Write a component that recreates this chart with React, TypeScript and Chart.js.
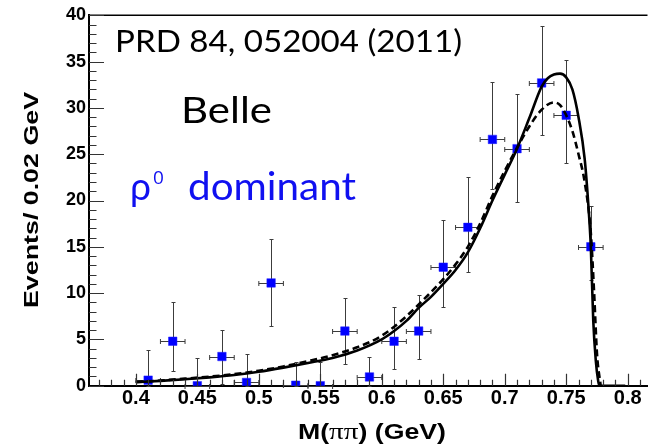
import React, { useEffect, useRef } from "react";
import { Chart, registerables } from "chart.js";

Chart.register(...registerables);

// ---- data ----
const binCenters = [0.41, 0.43, 0.45, 0.47, 0.49, 0.51, 0.53, 0.55, 0.57, 0.59, 0.61, 0.63, 0.65, 0.67, 0.69, 0.71, 0.73, 0.75, 0.77];
const binValues = [0.6, 4.8, 0.0, 3.15, 0.35, 11.1, 0.05, 0.0, 5.9, 0.95, 4.8, 5.9, 12.8, 17.1, 26.6, 25.6, 32.7, 29.2, 15.0];
const errLow = [0, 1.6, 0, 0.2, 0, 6.4, 0, 0, 2.35, 0, 1.85, 2.9, 8.5, 12.3, 21.2, 19.8, 27.1, 24.0, 11.4];
const errHigh = [3.9, 9.0, 3.0, 6.0, 3.4, 15.85, 2.6, 2.6, 9.45, 3.15, 8.55, 9.75, 17.9, 22.55, 32.8, 31.5, 38.8, 35.2, 19.4];
const binHalfWidth = 0.01;

const solidX = [0.40, 0.42, 0.44, 0.46, 0.48, 0.50, 0.52, 0.54, 0.56, 0.58, 0.60, 0.61, 0.62, 0.63, 0.64, 0.65, 0.66, 0.67, 0.68, 0.69, 0.70, 0.71, 0.72, 0.73, 0.735, 0.74, 0.745, 0.75, 0.755, 0.76, 0.765, 0.768, 0.770, 0.772, 0.774, 0.776, 0.777, 0.798];
const solidY = [0.37, 0.52, 0.70, 0.90, 1.15, 1.50, 1.95, 2.45, 3.00, 3.80, 5.00, 5.90, 7.00, 8.40, 9.60, 11.0, 12.5, 14.4, 17.0, 20.0, 22.8, 25.6, 28.9, 32.3, 33.2, 33.6, 33.7, 33.3, 32.0, 29.0, 24.5, 19.5, 15.0, 7.0, 2.8, 0.5, 0.0, 0.0];

const dashedX = [0.40, 0.42, 0.44, 0.46, 0.48, 0.50, 0.52, 0.54, 0.56, 0.58, 0.60, 0.62, 0.64, 0.65, 0.66, 0.67, 0.68, 0.69, 0.70, 0.71, 0.72, 0.73, 0.74, 0.745, 0.75, 0.755, 0.76, 0.765, 0.770, 0.7727, 0.775, 0.778];
const dashedY = [0.40, 0.56, 0.76, 0.98, 1.25, 1.62, 2.08, 2.65, 3.30, 4.15, 5.40, 7.50, 10.1, 11.5, 13.1, 15.0, 17.5, 20.5, 23.2, 25.7, 28.0, 29.8, 30.6, 30.3, 29.2, 27.5, 25.0, 22.0, 16.5, 10.0, 3.5, 0.0];

const xTickValues = [0.4, 0.45, 0.5, 0.55, 0.6, 0.65, 0.7, 0.75, 0.8];
const xTickLabels = ["0.4", "0.45", "0.5", "0.55", "0.6", "0.65", "0.7", "0.75", "0.8"];
const yTickValues = [0, 5, 10, 15, 20, 25, 30, 35, 40];
const yTickLabels = ["0", "5", "10", "15", "20", "25", "30", "35", "40"];

const xAxisTitleParts = ["M(", "\u03c0\u03c0", ") (GeV)"];
const yAxisTitle = "Events/ 0.02 GeV";
const refText = "PRD 84, 052004 (2011)";
const experimentText = "Belle";
const rhoText = "\u03c1";
const rhoSup = "0";
const dominantText = "dominant";

const W = 654;
const H = 444;
const SANS_BOLD = "'Liberation Sans', Arial, Helvetica, sans-serif";
const ANNOT_FONT = "Lato, 'Open Sans', 'Noto Sans', sans-serif";

function fitText(ctx: CanvasRenderingContext2D, text: string, x: number, baseline: number, font: string, width: number | null, color: string) {
  ctx.save();
  ctx.font = font;
  ctx.fillStyle = color;
  ctx.textAlign = "left";
  ctx.textBaseline = "alphabetic";
  const w = ctx.measureText(text).width;
  ctx.translate(x, baseline);
  if (width) ctx.scale(width / w, 1);
  ctx.fillText(text, 0, 0);
  ctx.restore();
}

const decorPlugin = {
  id: "decor",
  beforeDatasetsDraw(chart: any) {
    const ctx: CanvasRenderingContext2D = chart.ctx;
    const xs = chart.scales.x;
    const ys = chart.scales.y;
    ctx.save();
    ctx.strokeStyle = "#3c3c3c";
    ctx.lineWidth = 1;
    binCenters.forEach((c, i) => {
      const px = Math.round(xs.getPixelForValue(c)) + 0.5;
      const py = Math.round(ys.getPixelForValue(binValues[i])) + 0.5;
      const pl = xs.getPixelForValue(c - binHalfWidth);
      const pr = xs.getPixelForValue(c + binHalfWidth);
      const pt = Math.round(ys.getPixelForValue(errHigh[i])) + 0.5;
      const pb = Math.round(ys.getPixelForValue(errLow[i])) + 0.5;
      ctx.beginPath();
      ctx.moveTo(px, pt);
      ctx.lineTo(px, pb);
      ctx.moveTo(px - 2, pt);
      ctx.lineTo(px + 2, pt);
      ctx.moveTo(px - 2, pb);
      ctx.lineTo(px + 2, pb);
      ctx.moveTo(pl, py);
      ctx.lineTo(pr, py);
      ctx.moveTo(pl, py - 2.5);
      ctx.lineTo(pl, py + 2.5);
      ctx.moveTo(pr, py - 2.5);
      ctx.lineTo(pr, py + 2.5);
      ctx.stroke();
    });
    ctx.restore();
  },
  afterDraw(chart: any) {
    const ctx: CanvasRenderingContext2D = chart.ctx;
    const xs = chart.scales.x;
    const ys = chart.scales.y;
    const area = chart.chartArea;
    ctx.save();
    // top frame line
    ctx.strokeStyle = "#000";
    ctx.lineWidth = 1.5;
    ctx.beginPath();
    ctx.moveTo(area.left, area.top);
    ctx.lineTo(area.right, area.top);
    ctx.stroke();

    // inward ticks
    ctx.strokeStyle = "#333";
    ctx.lineWidth = 1.2;
    ctx.beginPath();
    for (let k = 37; k <= 81; k++) {
      const v = k / 100;
      const px = Math.round(xs.getPixelForValue(v)) + 0.5;
      if (px < area.left || px > area.right) continue;
      const major = k % 5 === 0;
      const len = major ? 12 : 6;
      ctx.moveTo(px, area.bottom);
      ctx.lineTo(px, area.bottom - len);
    }
    for (let k = 0; k <= 40; k++) {
      const py = Math.round(ys.getPixelForValue(k)) + 0.5;
      const major = k % 5 === 0;
      const len = major ? 15 : 7.5;
      ctx.moveTo(area.left, py);
      ctx.lineTo(area.left + len, py);
    }
    ctx.stroke();

    // x axis title
    ctx.fillStyle = "#000";
    ctx.textBaseline = "alphabetic";
    ctx.textAlign = "left";
    const f1 = "bold 22px " + SANS_BOLD;
    const f2 = "24px 'Liberation Serif', 'DejaVu Serif', serif";
    ctx.font = f1;
    const w1 = ctx.measureText(xAxisTitleParts[0]).width;
    const w3 = ctx.measureText(xAxisTitleParts[2]).width;
    ctx.font = f2;
    const w2 = ctx.measureText(xAxisTitleParts[1]).width;
    const total = w1 + w2 + w3;
    const sx = 148 / total;
    ctx.save();
    ctx.translate(298, 438.5);
    ctx.scale(sx, 1);
    ctx.font = f1;
    ctx.fillText(xAxisTitleParts[0], 0, 0);
    ctx.font = f2;
    ctx.fillText(xAxisTitleParts[1], w1, 0);
    ctx.font = f1;
    ctx.fillText(xAxisTitleParts[2], w1 + w2, 0);
    ctx.restore();

    // y axis title
    ctx.save();
    ctx.font = "bold 20.5px " + SANS_BOLD;
    const wy = ctx.measureText(yAxisTitle).width;
    ctx.translate(37.5, 200);
    ctx.rotate(-Math.PI / 2);
    ctx.scale(216 / wy, 1);
    ctx.textAlign = "center";
    ctx.fillText(yAxisTitle, 0, 0);
    ctx.restore();

    // annotations
    fitText(ctx, refText, 115, 51.7, "31px " + ANNOT_FONT, 347, "#000");
    fitText(ctx, experimentText, 181, 123.3, "37px " + ANNOT_FONT, 91, "#000");
    fitText(ctx, rhoText, 130, 200, "38px " + ANNOT_FONT, 21, "#1010f0");
    fitText(ctx, rhoSup, 153, 183.5, "19px 'Open Sans', 'Noto Sans', sans-serif", null, "#1010f0");
    fitText(ctx, dominantText, 188, 200, "39px " + ANNOT_FONT, 168, "#1010f0");
    ctx.restore();
  },
};

export default function App() {
  const ref = useRef<HTMLCanvasElement | null>(null);
  useEffect(() => {
    document.body.style.margin = "0";
    document.body.style.overflow = "hidden";
    const canvas = ref.current;
    if (!canvas) return;
    const chart = new Chart(canvas, {
      type: "scatter",
      data: {
        datasets: [
          {
            label: "fit",
            data: solidX.map((x, i) => ({ x, y: solidY[i] })),
            showLine: true,
            borderColor: "#000",
            borderWidth: 2.6,
            pointRadius: 0,
            cubicInterpolationMode: "monotone",
            order: 0,
          } as any,
          {
            label: "fit2",
            data: dashedX.map((x, i) => ({ x, y: dashedY[i] })),
            showLine: true,
            borderColor: "#000",
            borderWidth: 2.6,
            borderDash: [7, 4],
            pointRadius: 0,
            cubicInterpolationMode: "monotone",
            order: 1,
          } as any,
          {
            label: "data",
            data: binCenters.map((x, i) => ({ x, y: binValues[i] })),
            showLine: false,
            pointStyle: "rect",
            pointRadius: 6,
            backgroundColor: "#0000ff",
            borderColor: "#2020ff",
            borderWidth: 0.5,
            order: 2,
          } as any,
        ],
      },
      options: {
        animation: false,
        responsive: false,
        maintainAspectRatio: false,
        layout: { padding: { top: 15.3, right: 0, left: 0, bottom: 0 } },
        plugins: {
          legend: { display: false },
          tooltip: { enabled: false },
          title: { display: false },
        },
        scales: {
          x: {
            type: "linear",
            min: 0.3619,
            max: 0.8161,
            grid: { display: false, drawTicks: false },
            border: { display: true, color: "#000", width: 2 },
            afterBuildTicks: (s: any) => {
              s.ticks = xTickValues.map((v) => ({ value: v }));
            },
            afterFit: (s: any) => {
              s.height = H - 385.7;
            },
            ticks: {
              autoSkip: false,
              maxRotation: 0,
              padding: 1,
              color: "#000",
              font: { family: SANS_BOLD, size: 20, weight: "bold" },
              callback: (_v: any, i: number) => xTickLabels[i],
            },
          },
          y: {
            type: "linear",
            min: 0,
            max: 40,
            grid: { display: false, drawTicks: false },
            border: { display: true, color: "#000", width: 2 },
            afterBuildTicks: (s: any) => {
              s.ticks = yTickValues.map((v) => ({ value: v }));
            },
            afterFit: (s: any) => {
              s.width = 89;
            },
            ticks: {
              autoSkip: false,
              padding: 3,
              color: "#000",
              font: { family: SANS_BOLD, size: 18, weight: "bold" },
              callback: (_v: any, i: number) => yTickLabels[i],
            },
          },
        },
      } as any,
      plugins: [decorPlugin],
    });
    return () => chart.destroy();
  }, []);
  return (
    <div style={{ width: W, height: H, background: "#fff" }}>
      <canvas ref={ref} width={W} height={H} style={{ display: "block" }} />
    </div>
  );
}
